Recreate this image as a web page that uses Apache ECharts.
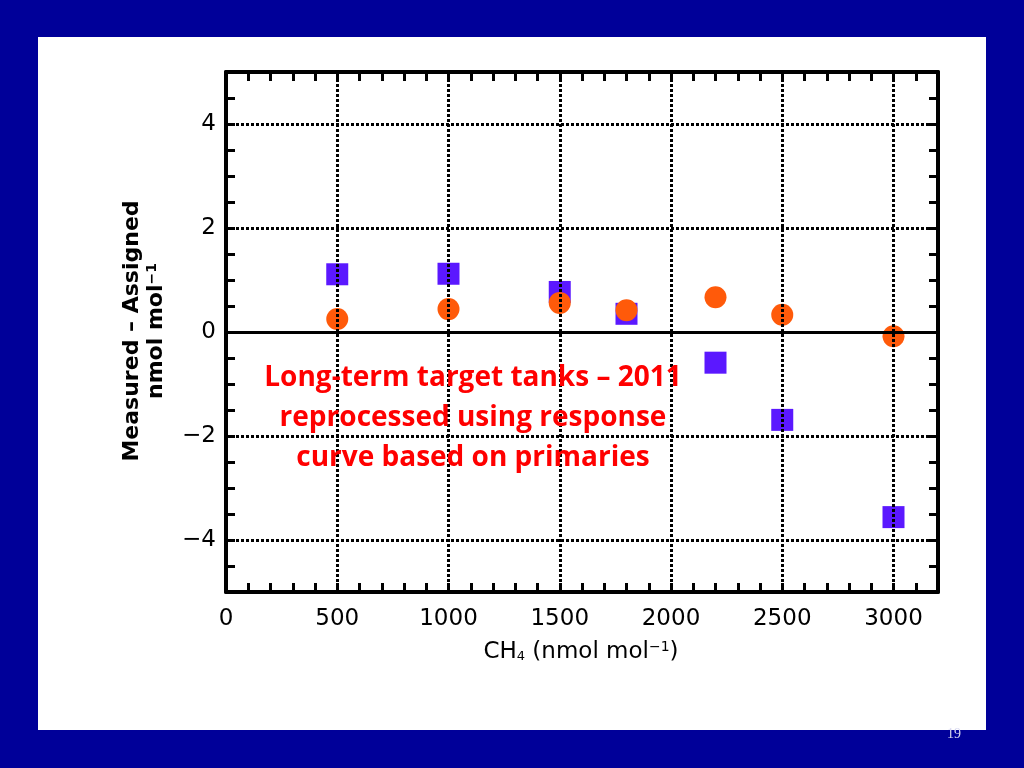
<!DOCTYPE html>
<html><head><meta charset="utf-8">
<script src="https://cdn.jsdelivr.net/npm/echarts@6/dist/echarts.min.js"></script>
<style>html,body{margin:0;padding:0;background:#000099;}#c{width:1024px;height:768px;}</style>
</head><body><div id="c"></div>
<script>
// CH4 mole fraction of the long-term target tanks (nmol/mol)
const xValues = [500, 1000, 1500, 1800, 2200, 2500, 3000];
// Measured - Assigned, original processing (squares)
const squareValues = [1.11, 1.12, 0.77, 0.35, -0.59, -1.69, -3.56];
// Measured - Assigned, reprocessed with primaries response curve (circles)
const circleValues = [0.25, 0.44, 0.56, 0.42, 0.67, 0.33, -0.08];
const xTickLabels = [0, 500, 1000, 1500, 2000, 2500, 3000];
const yTickLabels = [-4, -2, 0, 2, 4];
const xGridValues = [500, 1000, 1500, 2000, 2500, 3000];
const yGridValues = [-4, -2, 2, 4];
const annotationLines = ['Long-term target tanks \u2013 2011', 'reprocessed using response', 'curve based on primaries'];

const chart = echarts.init(document.getElementById('c'));
const tickFont = { fontFamily: 'DejaVu Sans', fontSize: 23, color: '#000' };
const axisLine = { show: true, onZero: false, lineStyle: { color: '#000', width: 4 } };
const axisTick = { show: true, inside: true, length: 9, lineStyle: { color: '#000', width: 3 } };
const dotted = { color: '#000', width: 3, type: [3, 2] };

function xAxisDef(pos, labels) {
  return {
    type: 'value', position: pos, min: 0, max: 3200, interval: 100,
    axisLine, axisTick, splitLine: { show: false },
    axisLabel: labels ? Object.assign({ margin: 16, formatter: v => xTickLabels.includes(v) ? String(v) : '' }, tickFont) : { show: false }
  };
}
function yAxisDef(pos, labels) {
  return {
    type: 'value', position: pos, min: -5, max: 5, interval: 0.5,
    axisLine, axisTick, splitLine: { show: false },
    axisLabel: labels ? Object.assign({ margin: 10, formatter: v => yTickLabels.includes(v) ? String(v).replace('-', '\u2212') : '' }, tickFont) : { show: false }
  };
}

const gridMarks = xGridValues.map(v => ({ xAxis: v }))
  .concat(yGridValues.map(v => ({ yAxis: v })))
  .concat([{ yAxis: 0, lineStyle: { type: 'solid', width: 3, color: '#000' } }]);

chart.setOption({
  backgroundColor: '#000099',
  animation: false,
  grid: { left: 226, right: 86, top: 72, bottom: 176 },
  xAxis: [xAxisDef('bottom', true), xAxisDef('top', false)],
  yAxis: [yAxisDef('left', true), yAxisDef('right', false)],
  graphic: [
    { type: 'rect', z: -10, silent: true, shape: { x: 38, y: 37, width: 948, height: 693 }, style: { fill: '#ffffff' } },
    { type: 'text', z: 10, x: 473, y: 418, style: {
        text: annotationLines.join('\n'), font: 'bold 28px "Open Sans"', fill: '#ff0000',
        align: 'center', verticalAlign: 'middle', lineHeight: 40 } },
    { type: 'text', z: 10, x: 581, y: 652, style: {
        text: 'CH{sub|4} (nmol mol{sup|\u22121})', font: '23px "DejaVu Sans"', fill: '#000',
        align: 'center', verticalAlign: 'middle',
        rich: { sub: { fontSize: 13, fontFamily: 'DejaVu Sans', verticalAlign: 'bottom', fill: '#000' },
                sup: { fontSize: 14, fontFamily: 'DejaVu Sans', verticalAlign: 'top', fill: '#000' } } } },
    { type: 'text', z: 10, x: 132, y: 331, rotation: Math.PI / 2, style: {
        text: 'Measured \u2013 Assigned', font: 'bold 22px "DejaVu Sans"', fill: '#000',
        align: 'center', verticalAlign: 'middle' } },
    { type: 'text', z: 10, x: 156, y: 331, rotation: Math.PI / 2, style: {
        text: 'nmol mol{sup|\u22121}', font: 'bold 22px "DejaVu Sans"', fill: '#000',
        align: 'center', verticalAlign: 'middle',
        rich: { sup: { fontSize: 14, fontWeight: 'bold', fontFamily: 'DejaVu Sans', verticalAlign: 'top', fill: '#000' } } } },
    { type: 'text', z: 10, x: 954, y: 734, style: {
        text: '19', font: '14px "Liberation Serif"', fill: '#d8d8f0', align: 'center', verticalAlign: 'middle' } }
  ],
  series: [
    { type: 'line', data: [], silent: true, z: 1,
      markLine: { silent: true, symbol: 'none', label: { show: false }, lineStyle: dotted, animation: false, data: gridMarks } },
    { type: 'scatter', name: 'original', symbol: 'rect', symbolSize: 22, z: 3,
      itemStyle: { color: '#5b18ff', opacity: 1 },
      data: xValues.map((x, i) => [x, squareValues[i]]) },
    { type: 'scatter', name: 'reprocessed', symbol: 'circle', symbolSize: 22, z: 4,
      itemStyle: { color: '#ff5a0a', opacity: 1 },
      data: xValues.map((x, i) => [x, circleValues[i]]) }
  ]
});
</script>
</body></html>
